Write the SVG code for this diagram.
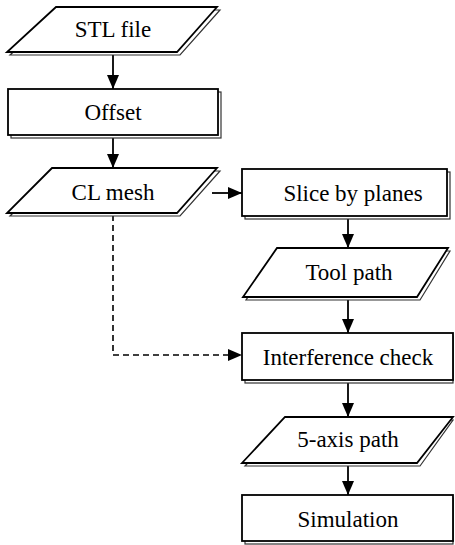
<svg xmlns="http://www.w3.org/2000/svg" width="455" height="545" viewBox="0 0 455 545">
<style>
.sh{fill:#fff;stroke:#333;stroke-width:1.2}
.m{fill:#fff;stroke:#000;stroke-width:1.8}
.t{font-family:"Liberation Serif","Times New Roman",serif;font-size:23px;fill:#000;text-anchor:middle}
.c{stroke:#000;stroke-width:1.8;fill:none}
.d{stroke:#000;stroke-width:1.6;fill:none;stroke-dasharray:6,4}
</style>
<defs>
<marker id="ah" viewBox="0 0 14 12" refX="14" refY="6" markerWidth="14" markerHeight="12" markerUnits="userSpaceOnUse" orient="auto">
<path d="M0,0 L14,6 L0,12 Z" fill="#000"/>
</marker>
</defs>
<rect width="455" height="545" fill="#fff"/>
<g id="connectors">
<line class="c" x1="113" y1="53" x2="113" y2="89" marker-end="url(#ah)"/>
<line class="c" x1="113" y1="137" x2="113" y2="168" marker-end="url(#ah)"/>
<line class="c" x1="212" y1="193" x2="242" y2="193" marker-end="url(#ah)"/>
<line class="c" x1="348" y1="218" x2="348" y2="248" marker-end="url(#ah)"/>
<line class="c" x1="348" y1="299" x2="348" y2="333" marker-end="url(#ah)"/>
<path class="d" d="M113,215 V355 H232"/>
<path d="M228,349 L242,355 L228,361 Z" fill="#000"/>
<line class="c" x1="348" y1="382" x2="348" y2="417" marker-end="url(#ah)"/>
<line class="c" x1="348" y1="465" x2="348" y2="495" marker-end="url(#ah)"/>
</g>
<g id="stl">
<polygon class="sh" points="60,10 220,10 180,55 10,55"/>
<polygon class="m" points="56,7 217,7 177,52 7,52"/>
<text class="t" x="113" y="37">STL file</text>
</g>
<g id="offset">
<rect class="sh" x="11" y="92" width="210" height="46"/>
<rect class="m" x="8" y="89" width="210" height="46"/>
<text class="t" x="113" y="120">Offset</text>
</g>
<g id="clmesh">
<polygon class="sh" points="56,171 220,171 180,216 10,216"/>
<polygon class="m" points="52,168 217,168 177,213 7,213"/>
<text class="t" x="113" y="200">CL mesh</text>
</g>
<g id="slice">
<rect class="sh" x="245" y="172" width="205" height="47"/>
<rect class="m" x="242" y="169" width="205" height="47"/>
<text class="t" x="353" y="201">Slice by planes</text>
</g>
<g id="toolpath">
<polygon class="sh" points="280,251 450,251 420,300 246,300"/>
<polygon class="m" points="277,248 448,248 417,297 243,297"/>
<text class="t" x="349" y="280">Tool path</text>
</g>
<g id="interference">
<rect class="sh" x="245" y="336" width="208" height="47"/>
<rect class="m" x="242" y="333" width="211" height="47"/>
<text class="t" x="348" y="365">Interference check</text>
</g>
<g id="fiveaxis">
<polygon class="sh" points="288,420 453,420 420,466 245,466"/>
<polygon class="m" points="285,417 453,417 417,463 242,463"/>
<text class="t" x="348" y="447">5-axis path</text>
</g>
<g id="simulation">
<rect class="sh" x="245" y="498" width="208" height="46"/>
<rect class="m" x="242" y="495" width="211" height="46"/>
<text class="t" x="348" y="527">Simulation</text>
</g>
</svg>
